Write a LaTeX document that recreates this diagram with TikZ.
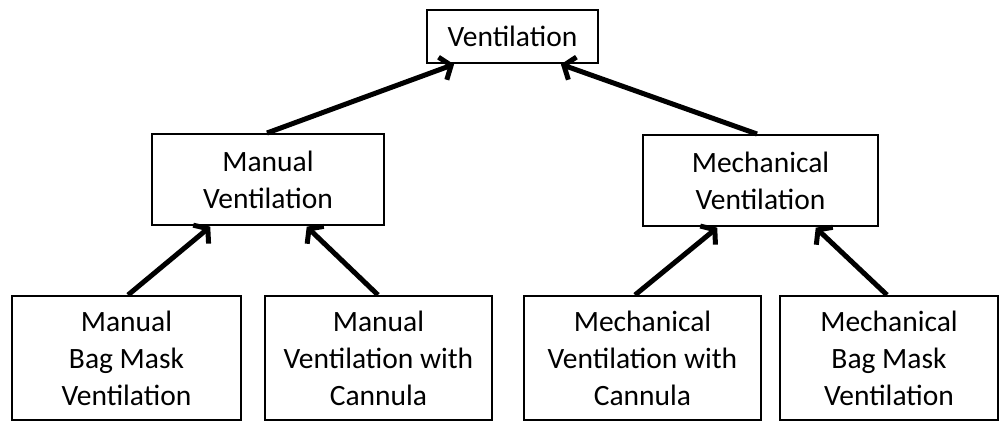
\documentclass[tikz,border=0pt]{standalone}
\usepackage{fontspec}
\setmainfont{Carlito}
\usetikzlibrary{arrows.meta}
\begin{document}
\begin{tikzpicture}[x=1pt,y=-1pt,
  box/.style={draw=black, line width=2pt, fill=white, align=center, inner sep=0pt,
    font=\fontsize{29.5}{37}\selectfont},
  conn/.style={line width=5pt, -{Straight Barb[length=9pt,width=24pt,line width=5pt]}, shorten >=1pt}]
\useasboundingbox (0,0) rectangle (1000,425);
\node[box, minimum width=171pt, minimum height=53pt] (top) at (512.5,36.5) {Ventilation};
\node[box, minimum width=232pt, minimum height=91pt] (man) at (268,179.5) {Manual\\Ventilation};
\node[box, minimum width=235pt, minimum height=91pt] (mech) at (760.5,180.5) {Mechanical\\Ventilation};
\node[box, minimum width=229pt, minimum height=124pt] (b1) at (126.5,358) {Manual\\Bag Mask\\Ventilation};
\node[box, minimum width=227pt, minimum height=124pt] (b2) at (378.5,358) {Manual\\Ventilation with\\Cannula};
\node[box, minimum width=237pt, minimum height=124pt] (b3) at (642.5,358) {Mechanical\\Ventilation with\\Cannula};
\node[box, minimum width=218pt, minimum height=124pt] (b4) at (889,358) {Mechanical\\Bag Mask\\Ventilation};
\draw[conn] ([xshift=-1pt]man.north) -- ([xshift=-57.5pt]top.south);
\draw[conn] ([xshift=-3.5pt]mech.north) -- ([xshift=47.5pt]top.south);
\draw[conn] ([xshift=1.5pt]b1.north) -- ([xshift=-57pt]man.south);
\draw[conn] ([xshift=-0.5pt]b2.north) -- ([xshift=38pt]man.south);
\draw[conn] ([xshift=-7.5pt]b3.north) -- ([xshift=-42.5pt]mech.south);
\draw[conn] ([xshift=-2pt]b4.north) -- ([xshift=54.5pt]mech.south);
\end{tikzpicture}
\end{document}
